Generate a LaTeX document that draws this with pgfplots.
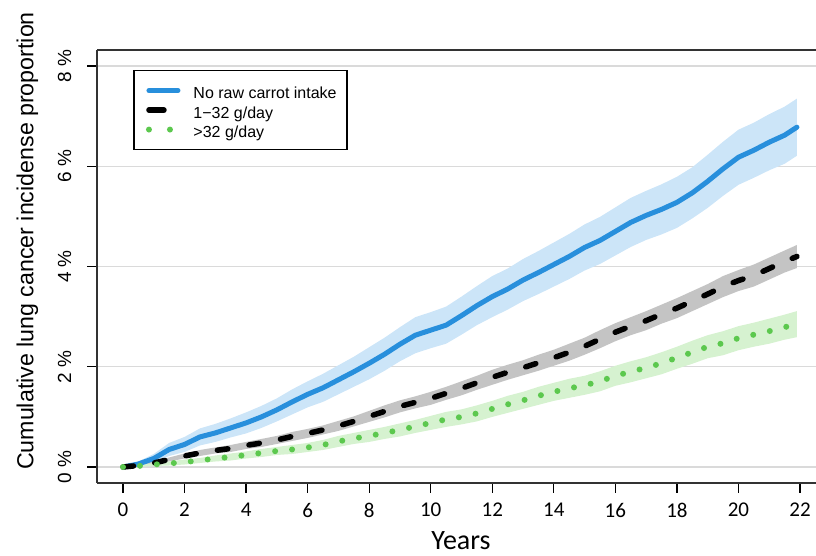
\documentclass[border=0pt]{standalone}
\usepackage{pgfplots}
\pgfplotsset{compat=1.18}
\usepackage{pgfplotstable}
\usepgfplotslibrary{fillbetween}
\usepackage{fontspec}
\setmainfont{Liberation Sans}
\newfontfamily\calibri{Carlito}

\definecolor{cblue}{RGB}{40,143,220}
\definecolor{cblueband}{RGB}{204,229,248}
\definecolor{cgrayband}{RGB}{196,196,196}
\definecolor{cgreen}{RGB}{92,200,78}
\definecolor{cgreenband}{RGB}{214,242,208}
\definecolor{cgrid}{RGB}{218,218,218}

% No raw carrot intake
\pgfplotstableread{
x m lo hi
0 0 0 0
0.5 0.06 0.01 0.11
1 0.17 0.08 0.26
1.5 0.35 0.22 0.48
2 0.45 0.30 0.60
2.5 0.60 0.43 0.77
3 0.68 0.50 0.86
3.5 0.78 0.59 0.97
4 0.88 0.67 1.09
4.5 1.00 0.78 1.22
5 1.14 0.91 1.37
5.5 1.30 1.05 1.55
6 1.45 1.19 1.71
6.5 1.58 1.30 1.86
7 1.74 1.45 2.03
7.5 1.90 1.60 2.20
8 2.07 1.75 2.39
8.5 2.25 1.92 2.58
9 2.45 2.11 2.79
9.5 2.63 2.27 2.99
10 2.73 2.37 3.09
10.5 2.83 2.46 3.20
11 3.02 2.64 3.40
11.5 3.22 2.83 3.61
12 3.40 2.99 3.81
12.5 3.55 3.14 3.96
13 3.73 3.31 4.15
13.5 3.88 3.45 4.31
14 4.04 3.60 4.48
14.5 4.20 3.75 4.65
15 4.38 3.92 4.84
15.5 4.52 4.05 4.99
16 4.70 4.22 5.18
16.5 4.88 4.39 5.37
17 5.02 4.53 5.51
17.5 5.14 4.64 5.64
18 5.28 4.77 5.79
18.5 5.47 4.96 5.98
19 5.70 5.17 6.23
19.5 5.95 5.41 6.49
20 6.18 5.63 6.73
20.5 6.32 5.77 6.87
21 6.48 5.92 7.04
21.5 6.62 6.05 7.19
21.9 6.78 6.21 7.35
}\tblA

% 1-32 g/day
\pgfplotstableread{
x m lo hi
0 0 0 0
0.5 0.03 0.01 0.05
1 0.08 0.05 0.11
1.5 0.15 0.11 0.19
2 0.22 0.17 0.27
2.5 0.28 0.22 0.34
3 0.33 0.27 0.39
3.5 0.37 0.30 0.44
4 0.43 0.36 0.50
4.5 0.48 0.40 0.56
5 0.54 0.46 0.62
5.5 0.61 0.52 0.70
6 0.67 0.58 0.76
6.5 0.74 0.65 0.83
7 0.82 0.72 0.92
7.5 0.91 0.81 1.01
8 1.01 0.90 1.12
8.5 1.11 0.99 1.23
9 1.21 1.09 1.33
9.5 1.29 1.17 1.41
10 1.37 1.24 1.50
10.5 1.47 1.34 1.60
11 1.57 1.43 1.71
11.5 1.68 1.54 1.82
12 1.79 1.64 1.94
12.5 1.89 1.74 2.04
13 1.98 1.83 2.13
13.5 2.08 1.92 2.24
14 2.18 2.02 2.34
14.5 2.29 2.12 2.46
15 2.41 2.24 2.58
15.5 2.55 2.37 2.73
16 2.69 2.51 2.87
16.5 2.81 2.63 2.99
17 2.92 2.73 3.11
17.5 3.05 2.86 3.24
18 3.17 2.97 3.37
18.5 3.31 3.11 3.51
19 3.45 3.25 3.65
19.5 3.60 3.39 3.81
20 3.72 3.51 3.93
20.5 3.82 3.60 4.04
21 3.96 3.74 4.18
21.5 4.10 3.88 4.32
21.9 4.20 3.97 4.43
}\tblB

% >32 g/day
\pgfplotstableread{
x m lo hi
0 0 0 0
0.5 0.02 0.00 0.04
1 0.05 0.02 0.08
1.5 0.07 0.03 0.11
2 0.10 0.05 0.15
2.5 0.13 0.08 0.18
3 0.17 0.11 0.23
3.5 0.20 0.13 0.27
4 0.24 0.17 0.31
4.5 0.28 0.20 0.36
5 0.32 0.24 0.40
5.5 0.35 0.26 0.44
6 0.39 0.30 0.48
6.5 0.44 0.34 0.54
7 0.51 0.40 0.62
7.5 0.57 0.46 0.68
8 0.62 0.50 0.74
8.5 0.68 0.56 0.80
9 0.74 0.61 0.87
9.5 0.81 0.68 0.94
10 0.88 0.74 1.02
10.5 0.95 0.80 1.10
11 1.00 0.85 1.15
11.5 1.07 0.91 1.23
12 1.16 1.00 1.32
12.5 1.25 1.08 1.42
13 1.33 1.16 1.50
13.5 1.42 1.24 1.60
14 1.50 1.32 1.68
14.5 1.57 1.38 1.76
15 1.63 1.44 1.82
15.5 1.71 1.51 1.91
16 1.82 1.62 2.02
16.5 1.90 1.69 2.11
17 1.98 1.77 2.19
17.5 2.07 1.85 2.29
18 2.18 1.96 2.40
18.5 2.29 2.06 2.52
19 2.40 2.17 2.63
19.5 2.47 2.23 2.71
20 2.57 2.33 2.81
20.5 2.64 2.40 2.88
21 2.71 2.46 2.96
21.5 2.79 2.54 3.04
21.9 2.85 2.59 3.11
}\tblC

\begin{document}
\begin{tikzpicture}
\begin{axis}[
  at={(97pt,73pt)}, anchor=south west,
  scale only axis, width=719pt, height=433pt,
  xmin=-0.845, xmax=22.52, ymin=-0.319, ymax=8.32,
  axis x line=box, axis y line=left,
  axis line style={-, draw=black!80, line width=1.4pt},
  tick pos=left, tick align=outside,
  major tick length=10pt,
  tick style={black, line width=1.2pt},
  xtick={0,2,...,22},
  xticklabels={0,2,4,6,8,10,12,14,16,18,20,22},
  ytick={0,2,4,6,8},
  yticklabels={0 \%,2 \%,4 \%,6 \%,8 \%},
  xticklabel style={font=\calibri\fontsize{21}{21}\selectfont, anchor=north, inner sep=0pt},
  xticklabel shift=10pt,
  yticklabel style={font=\fontsize{19}{19}\selectfont, rotate=90, anchor=base, inner sep=0pt},
  yticklabel shift=16pt,
  ymajorgrids, grid style={cgrid, line width=1.3pt},
  legend cell align=left,
  legend style={at={(axis description cs:0.0505,0.954)}, anchor=north west,
    draw=black, line width=1.3pt, fill=white,
    font=\fontsize{16}{16}\selectfont,
    inner xsep=10pt, inner ysep=12pt, row sep=3.5pt, column sep=12pt,
    nodes={inner xsep=0.5pt, inner ysep=0pt, text height=16pt, text depth=0pt}},
]
\addplot[draw=none, name path=Alo, forget plot] table[x=x, y=lo]{\tblA};
\addplot[draw=none, name path=Ahi, forget plot] table[x=x, y=hi]{\tblA};
\addplot[fill=cblueband, draw=none, forget plot] fill between[of=Alo and Ahi];
\addplot[draw=none, name path=Blo, forget plot] table[x=x, y=lo]{\tblB};
\addplot[draw=none, name path=Bhi, forget plot] table[x=x, y=hi]{\tblB};
\addplot[fill=cgrayband, draw=none, forget plot] fill between[of=Blo and Bhi];
\addplot[draw=none, name path=Clo, forget plot] table[x=x, y=lo]{\tblC};
\addplot[draw=none, name path=Chi, forget plot] table[x=x, y=hi]{\tblC};
\addplot[fill=cgreenband, draw=none, forget plot] fill between[of=Clo and Chi];

\addplot[cblue, line width=5pt, line join=round, line cap=round,
  legend image code/.code={\path[draw=none, fill=none] (-5pt,-3pt) rectangle (32pt,3pt);
    \draw[cblue, solid, line width=5pt, line cap=round] (0pt,0pt) -- (29pt,0pt);}]
  table[x=x, y=m]{\tblA};
\addlegendentry{No raw carrot intake}
\addplot[black, line width=5.5pt, line join=round, line cap=round, dash pattern=on 10.5pt off 21.5pt,
  legend image code/.code={\path[draw=none, fill=none] (-5pt,-3pt) rectangle (32pt,3pt);
    \draw[black, solid, line width=5.5pt, line cap=round] (0pt,0pt) -- (15pt,0pt);}]
  table[x=x, y=m]{\tblB};
\addlegendentry{1\textminus 32 g/day}
\addplot[cgreen, line width=6pt, line cap=round, dash pattern=on 0pt off 17pt,
  legend image code/.code={\path[draw=none, fill=none] (-5pt,-3pt) rectangle (32pt,3pt);
    \draw[cgreen, line width=6pt, line cap=round, dash pattern=on 0pt off 21pt] (0pt,0pt) -- (25pt,0pt);}]
  table[x=x, y=m]{\tblC};
\addlegendentry{>32 g/day}
\end{axis}
\node[rotate=90, anchor=base, font=\fontsize{23.2}{23.2}\selectfont] at (33.3pt,315pt) {Cumulative lung cancer incidense proportion};
\node[anchor=base, font=\calibri\fontsize{28}{28}\selectfont] at (461pt,6pt) {Years};
\pgfresetboundingbox
\useasboundingbox (0pt,0pt) rectangle (816pt,556pt);
\end{tikzpicture}
\end{document}
